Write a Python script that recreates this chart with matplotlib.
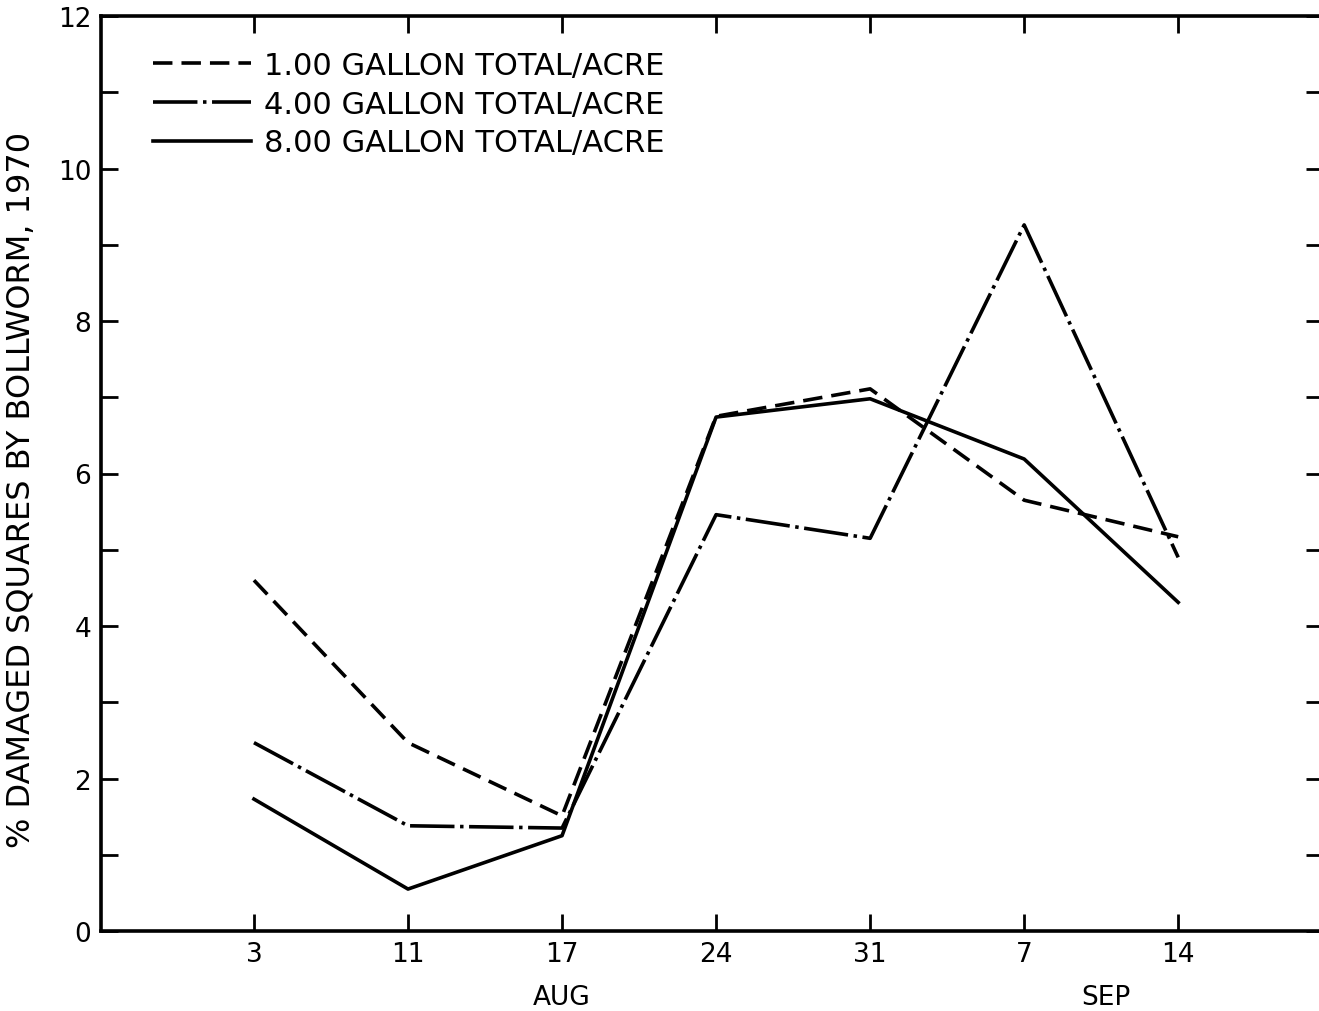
import matplotlib
matplotlib.use("Agg")
import matplotlib.pyplot as plt
import numpy as np

plt.rcParams['font.family'] = ['DejaVu Sans']
plt.rcParams['lines.scale_dashes'] = False

dates = ["3", "11", "17", "24", "31", "7", "14"]
gal_1 = [4.60, 2.47, 1.51, 6.75, 7.11, 5.65, 5.17]
gal_4 = [2.47, 1.38, 1.35, 5.46, 5.15, 9.26, 4.90]
gal_8 = [1.73, 0.55, 1.25, 6.74, 6.98, 6.19, 4.31]
labels = ["1.00 GALLON TOTAL/ACRE", "4.00 GALLON TOTAL/ACRE", "8.00 GALLON TOTAL/ACRE"]
ylabel = "% DAMAGED SQUARES BY BOLLWORM, 1970"

W, H = 1319, 1012
fig = plt.figure(figsize=(W / 100, H / 100), dpi=100)
left, right, bottom, top = 101, 1323, 932, 17
ax = fig.add_axes([left / W, (H - bottom) / H, (right - left) / W, (bottom - top) / H])

x = np.arange(len(dates))
lw = 2.6
ax.plot(x, gal_1, color='black', lw=lw, dashes=(14, 6.5), label=labels[0])
ax.plot(x, gal_4, color='black', lw=lw, dashes=(32, 4, 2.5, 4), label=labels[1])
ax.plot(x, gal_8, color='black', lw=lw, linestyle='-', label=labels[2])

ax.set_xlim(-0.993, 6.94)
ax.set_ylim(0, 12)
ax.set_xticks(x)
ax.set_xticklabels(dates)
ax.set_yticks(np.arange(0, 13, 2))
ax.set_yticks(np.arange(1, 12, 2), minor=True)

for s in ax.spines.values():
    s.set_linewidth(2.6)

ax.tick_params(axis='both', which='both', direction='in', width=2, top=True, right=True)
ax.tick_params(axis='both', which='major', length=12, labelsize=19)
ax.tick_params(axis='y', which='minor', length=12)
ax.tick_params(axis='x', which='major', pad=7)
ax.tick_params(axis='y', which='major', pad=7)

ax.set_ylabel(ylabel, fontsize=23)
ax.yaxis.set_label_coords(-0.052, 0.483)

ax.text(2, -0.86, "AUG", transform=ax.transData, ha='center', va='center', fontsize=19, clip_on=False)
ax.text(5.53, -0.86, "SEP", transform=ax.transData, ha='center', va='center', fontsize=19, clip_on=False)

leg = ax.legend(loc='upper left', bbox_to_anchor=(0.02, 0.992), frameon=False, fontsize=22,
                handlelength=3.2, handletextpad=0.45, labelspacing=0.32)
for h in leg.get_lines():
    h.set_linewidth(lw)

fig.savefig("out.png", dpi=100)
